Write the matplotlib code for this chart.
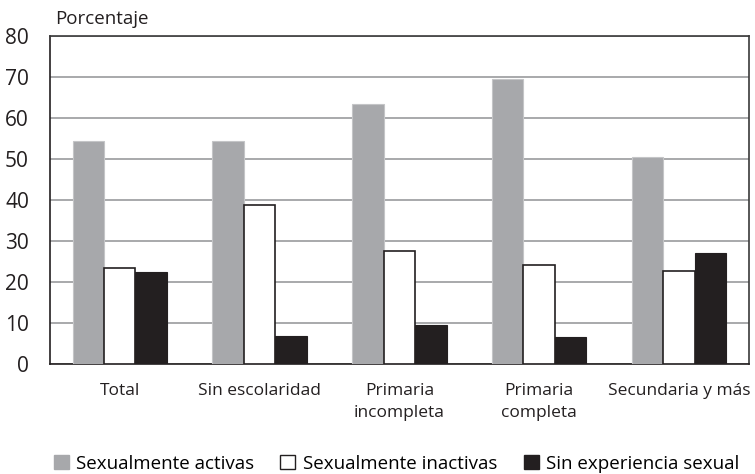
import matplotlib.pyplot as plt
import numpy as np
from matplotlib.patches import Patch

plt.rcParams["font.family"] = ["Open Sans", "DejaVu Sans"]

categories = ["Total", "Sin escolaridad", "Primaria\nincompleta", "Primaria\ncompleta", "Secundaria y más"]
activas = [54.5, 54.3, 63.4, 69.5, 50.5]
inactivas = [23.5, 38.9, 27.6, 24.1, 22.8]
sin_experiencia = [22.4, 6.9, 9.4, 6.7, 27.1]
series_names = ["Sexualmente activas", "Sexualmente inactivas", "Sin experiencia sexual"]
y_ticks = [0, 10, 20, 30, 40, 50, 60, 70, 80]

fig = plt.figure(figsize=(7.55, 4.74), dpi=100)
ax = fig.add_axes([0.066, 0.232, 0.926, 0.692])

x = np.arange(len(categories))
w = 0.225

ax.bar(x - w, activas, w, color="#a7a8ab", edgecolor="#c4c5c7", linewidth=0.8, zorder=3)
ax.bar(x, inactivas, w, color="white", edgecolor="#231f20", linewidth=1.2, zorder=3)
ax.bar(x + w, sin_experiencia, w, color="#231f20", edgecolor="#231f20", linewidth=0.8, zorder=3)

ax.set_xlim(-0.5, len(categories) - 0.5)
ax.set_ylim(0, 80)
ax.set_yticks(y_ticks)
ax.set_yticklabels([str(t) for t in y_ticks], fontsize=15, color="#231f20")
ax.set_xticks(x)
ax.set_xticklabels(categories, fontsize=12.5, color="#231f20", linespacing=1.45)
ax.tick_params(axis="both", length=0)
ax.tick_params(axis="y", pad=15)
ax.tick_params(axis="x", pad=14)

ax.yaxis.grid(True, color="#9a9b9d", linewidth=1.2, zorder=0)
ax.set_axisbelow(True)
for side in ["left", "bottom", "top", "right"]:
    ax.spines[side].set_color("#231f20")
    ax.spines[side].set_linewidth(1.2)
ax.spines["top"].set_color("#3a3a3a")
ax.spines["right"].set_color("#3a3a3a")

fig.text(0.073, 0.96, "Porcentaje", fontsize=13.5, color="#231f20", va="center")

handles = [
    Patch(facecolor="#a7a8ab", edgecolor="#a7a8ab"),
    Patch(facecolor="white", edgecolor="#231f20"),
    Patch(facecolor="#231f20", edgecolor="#231f20"),
]
fig.legend(handles, series_names, loc="center", bbox_to_anchor=(0.525, 0.022), ncol=3,
           frameon=False, fontsize=13.5, handlelength=0.8, handleheight=0.8,
           handletextpad=0.4, columnspacing=1.4, borderaxespad=0)

fig.savefig("out.png", dpi=100)
